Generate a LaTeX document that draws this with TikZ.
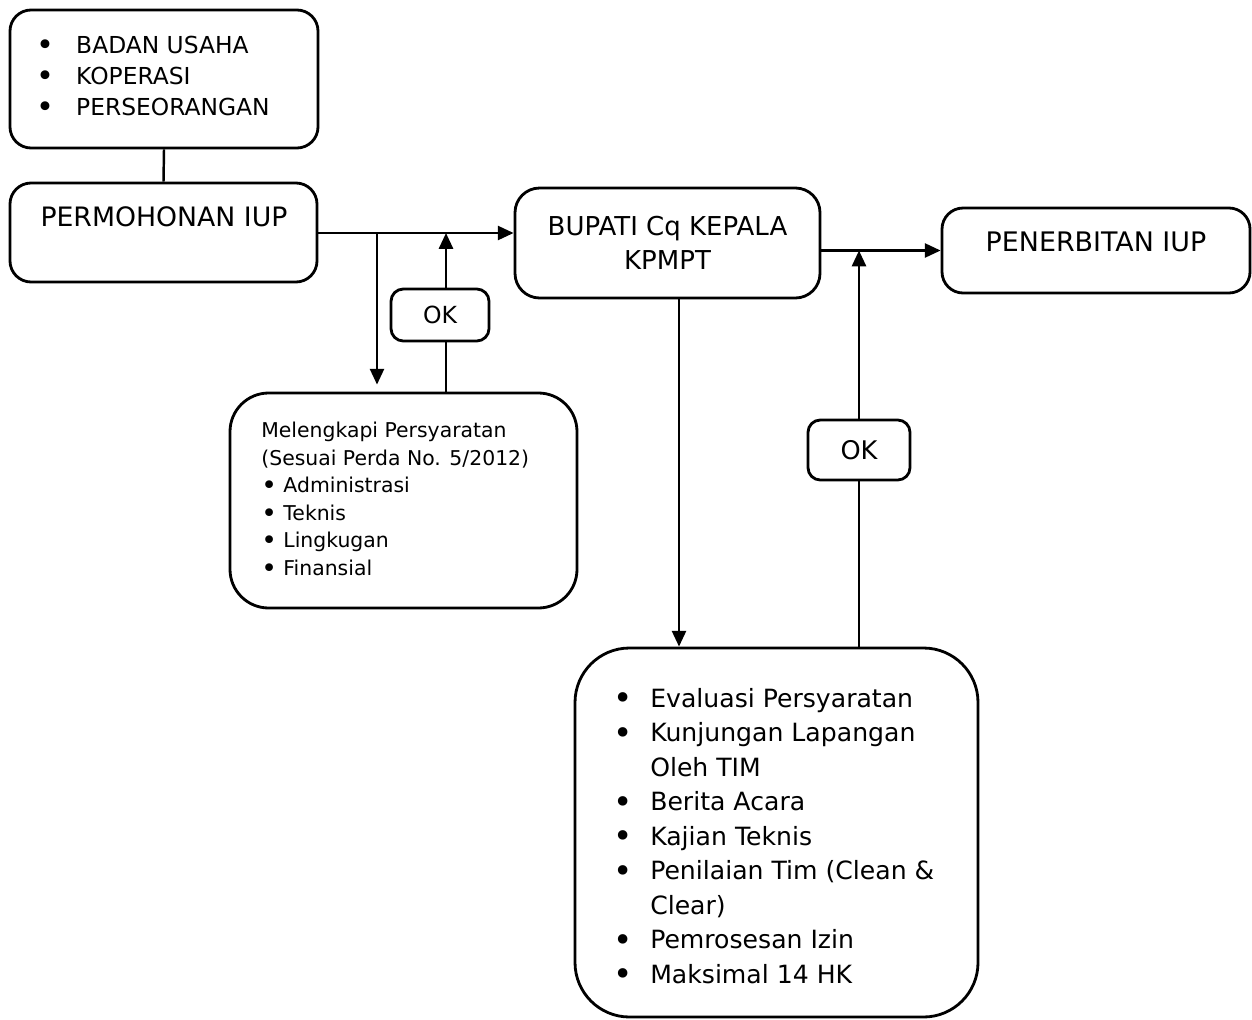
\documentclass[tikz,border=0pt]{standalone}
\usepackage{fontspec}
\setmainfont{DejaVu Sans}
\usetikzlibrary{arrows.meta}

\tikzset{
  kotak/.style={draw, line width=1.6pt, inner sep=0pt},
  panah/.style={line width=1.4pt, -{Triangle[length=9pt,width=8pt]}},
  garis/.style={line width=1.4pt},
  teks/.style={inner sep=0pt, align=left},
}
\newcommand{\titik}{\raisebox{-0.1em}{\scalebox{1.3}{\textbullet}}}
\newcommand{\butir}[1]{\makebox[#1][l]{\titik}}

\begin{document}
\begin{tikzpicture}
    \useasboundingbox (0,0) rectangle (25.04,-20.38);

    % kotak
    \node[kotak, rounded corners=12pt, minimum width=6.16cm, minimum height=2.76cm] (jenis) at (3.28,-1.58) {};
    \node[kotak, rounded corners=12pt, minimum width=6.14cm, minimum height=1.98cm] (permohonan) at (3.27,-4.65) {};
    \node[kotak, rounded corners=14pt, minimum width=6.10cm, minimum height=2.20cm,
          align=center, font=\fontsize{14.8}{19.3}\selectfont] (bupati) at (13.35,-4.86) {BUPATI Cq KEPALA\\KPMPT};
    \node[kotak, rounded corners=12pt, minimum width=6.16cm, minimum height=1.70cm] (penerbitan) at (21.92,-5.01) {};
    \node[kotak, rounded corners=22pt, minimum width=6.94cm, minimum height=4.30cm] (syarat) at (8.07,-10.01) {};
    \node[kotak, rounded corners=7pt, minimum width=1.96cm, minimum height=1.04cm,
          font=\fontsize{13.4}{16}\selectfont] (ok1) at (8.80,-6.30) {OK};
    \node[kotak, rounded corners=7pt, minimum width=2.04cm, minimum height=1.20cm,
          font=\fontsize{14.6}{17}\selectfont] (ok2) at (17.18,-9.00) {OK};
    \node[kotak, rounded corners=31pt, minimum width=8.06cm, minimum height=7.38cm] (evaluasi) at (15.53,-16.65) {};

    % teks (base = baris terakhir)
    \node[teks, anchor=base west, font=\fontsize{13.3}{17.6}\selectfont] (jenisteks) at (0.72,-2.30)
        {\butir{22.7pt}BADAN USAHA\\\butir{22.7pt}KOPERASI\\\butir{22.7pt}PERSEORANGAN};
    \node[anchor=base, inner sep=0pt, font=\fontsize{15.2}{18}\selectfont] (permohonanteks) at (3.28,-4.52) {PERMOHONAN IUP};
    \node[anchor=base, inner sep=0pt, font=\fontsize{15.3}{18}\selectfont] (penerbitanteks) at (21.92,-5.02) {PENERBITAN IUP};
    \node[teks, anchor=base west, font=\fontsize{11.6}{15.65}\selectfont] (syaratteks) at (5.22,-11.50)
        {Melengkapi Persyaratan\\(Sesuai Perda No. 5/2012)\\\titik{} Administrasi\\\titik{} Teknis\\\titik{} Lingkugan\\\titik{} Finansial};
    \node[teks, anchor=base west, font=\fontsize{14.3}{19.6}\selectfont] (evaluasiteks) at (12.26,-19.66)
        {\butir{21pt}Evaluasi Persyaratan\\
         \butir{21pt}Kunjungan Lapangan\\
         \hspace*{21pt}Oleh TIM\\
         \butir{21pt}Berita Acara\\
         \butir{21pt}Kajian Teknis\\
         \butir{21pt}Penilaian Tim (Clean \&\\
         \hspace*{21pt}Clear)\\
         \butir{21pt}Pemrosesan Izin\\
         \butir{21pt}Maksimal 14 HK};

    % titik cabang
    \coordinate (turun1) at (7.54,-4.66);
    \coordinate (naik1) at (8.92,-4.66);
    \coordinate (turun2) at (13.58,-4.86);

    % panah
    \draw[garis] (jenis.south) -- (permohonan.north);
    \draw[panah] (permohonan.east |- turun1) -- (bupati.west |- turun1);
    \draw[panah] (turun1) -- ([yshift=4pt]turun1 |- syarat.north);
    \draw[garis] (naik1 |- syarat.north) -- (naik1 |- ok1.south);
    \draw[panah] (naik1 |- ok1.north) -- (naik1);
    \draw[panah] (bupati.east |- penerbitan.west) -- (penerbitan.west);
    \draw[panah] (turun2 |- bupati.south) -- (turun2 |- evaluasi.north);
    \draw[garis] (ok2.south |- evaluasi.north) -- (ok2.south);
    \draw[panah] (ok2.north) -- (ok2.north |- penerbitan.west);
\end{tikzpicture}
\end{document}
